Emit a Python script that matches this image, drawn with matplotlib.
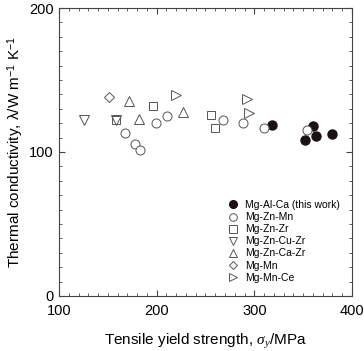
import matplotlib.pyplot as plt

plt.rcParams['font.family'] = ['Liberation Sans', 'DejaVu Sans']
plt.rcParams['mathtext.fontset'] = 'custom'
plt.rcParams['mathtext.rm'] = 'Liberation Sans'
plt.rcParams['mathtext.it'] = 'Liberation Serif:italic'

# Mg-Al-Ca (this work)
alca_x = [318, 360, 352, 363, 380]
alca_y = [118.5, 118, 108, 111, 112.5]
# Mg-Zn-Mn
znmn_x = [168, 178, 182.5, 199.5, 211, 268, 288, 310, 354]
znmn_y = [113, 105.5, 101.5, 120, 125, 122, 120, 117, 115]
# Mg-Zn-Zr
znzr_x = [158, 196.5, 255.5, 260]
znzr_y = [122, 132, 125.5, 116.5]
# Mg-Zn-Cu-Zr
zncuzr_x = [125.5, 158]
zncuzr_y = [122, 122]
# Mg-Zn-Ca-Zr
zncazr_x = [171.5, 181.5, 227]
zncazr_y = [135.5, 123, 128]
# Mg-Mn
mn_x = [151]
mn_y = [138]
# Mg-Mn-Ce
mnce_x = [220, 292.5, 295]
mnce_y = [139.5, 137, 127]

fig = plt.figure(figsize=(3.64, 3.51), dpi=100)
ax = fig.add_axes([0.162, 0.157, 0.805, 0.82])

ec = '#555555'
ms = 6.5
ax.plot(alca_x, alca_y, 'o', ms=ms, color='#1a1212', mec='#1a1212', label='Mg-Al-Ca (this work)')
ax.plot(znmn_x, znmn_y, 'o', ms=ms, mfc='white', mec=ec, mew=0.7, label='Mg-Zn-Mn')
ax.plot(znzr_x, znzr_y, 's', ms=ms-0.5, mfc='none', mec=ec, mew=0.7, label='Mg-Zn-Zr')
ax.plot(zncuzr_x, zncuzr_y, 'v', ms=ms, mfc='none', mec=ec, mew=0.7, label='Mg-Zn-Cu-Zr')
ax.plot(zncazr_x, zncazr_y, '^', ms=ms, mfc='none', mec=ec, mew=0.7, label='Mg-Zn-Ca-Zr')
ax.plot(mn_x, mn_y, 'D', ms=ms-1.5, mfc='none', mec=ec, mew=0.7, label='Mg-Mn')
ax.plot(mnce_x, mnce_y, '>', ms=ms, mfc='none', mec=ec, mew=0.7, label='Mg-Mn-Ce')

ax.set_xlim(100, 400)
ax.set_ylim(0, 200)
ax.set_xticks([100, 200, 300, 400])
ax.set_yticks([0, 100, 200])
ax.set_xticks(range(100, 401, 10), minor=True)
ax.set_yticks(range(0, 201, 10), minor=True)
ax.tick_params(which='both', direction='in', top=True, right=True, labelsize=10.5, color='#444444')
ax.tick_params(which='major', length=4)
ax.tick_params(which='minor', length=2)
ax.tick_params(axis='x', which='major', pad=6)
ax.tick_params(axis='y', which='major', pad=4)
for s in ax.spines.values():
    s.set_color('#444444')
    s.set_linewidth(0.8)

ax.set_xlabel('Tensile yield strength, $\\sigma_y$/MPa', fontsize=11, labelpad=10)
ax.set_ylabel('Thermal conductivity, λ/W m$^{-1}$ K$^{-1}$', fontsize=11, labelpad=2)

ax.legend(loc='lower right', frameon=False, fontsize=7.5, handletextpad=0.6,
          labelspacing=0.2, borderaxespad=0.6, handlelength=1.2, markerscale=0.85,
          bbox_to_anchor=(0.995, 0.01))

fig.savefig('out.png', dpi=100)
